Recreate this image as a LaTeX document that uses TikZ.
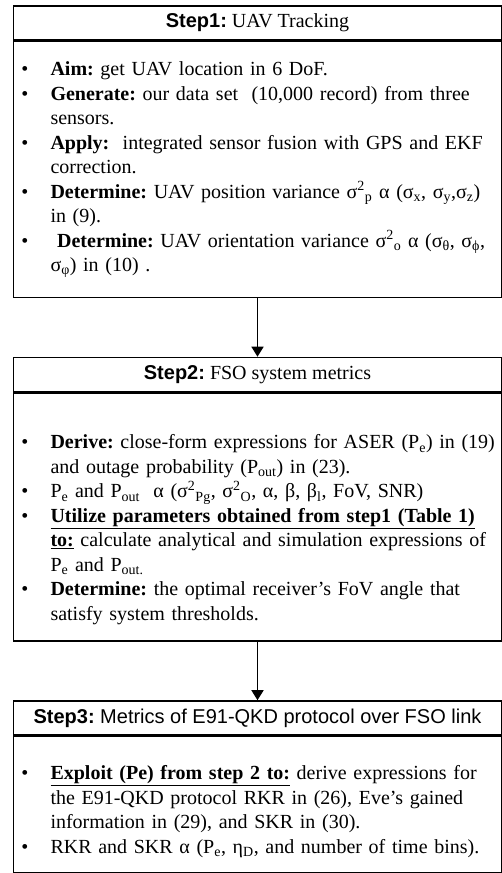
\documentclass[tikz,border=0pt]{standalone}
\usepackage{fontspec}
\setmainfont{Liberation Serif}
\setsansfont{Liberation Sans}
\usepackage{enumitem}
\usetikzlibrary{positioning,arrows.meta}
\frenchspacing
\def\stepwidth{488pt}
\def\headhigh{34pt}
\setlist[itemize]{label=\textbullet, leftmargin=37pt, labelsep=22pt, rightmargin=-30pt, itemsep=0pt, parsep=0pt, topsep=0pt, partopsep=0pt}
\newcommand{\steplabel}[1]{{\fontsize{20}{24}\selectfont\sffamily\bfseries #1:}}
\newcommand{\stephead}[3]{
    \node[head] (#1) at (257.5pt,-#2) {#3};
}
\newcommand{\sq}[1]{\textsuperscript{2}\textsubscript{#1}}
\tikzset{
    head/.style={draw, line width=1.6pt, minimum width=\stepwidth, minimum height=\headhigh, inner sep=0pt, font=\fontsize{20}{24}\selectfont},
    body/.style={draw, line width=1.6pt, minimum width=\stepwidth, text width=\stepwidth, inner sep=0pt, align=left, font=\fontsize{20}{24.5}\selectfont\frenchspacing},
    flow/.style={line width=1.6pt, -{Triangle[width=12pt,length=10pt]}}
}

\begin{document}
\begin{tikzpicture}
    \useasboundingbox (0,0) rectangle (502pt,-873pt);
    \stephead{head1}{23pt}{\steplabel{Step1} UAV Tracking}
    \node[body, minimum height=256pt, below=0pt of head1] (body1) {
        \vspace*{-10pt}
        \begin{itemize}
        \item \textbf{Aim:} get UAV location in 6 DoF.
        \item \textbf{Generate:} our data set\ \ (10,000 record) from three\\ sensors.
        \item \textbf{Apply:}\ \ integrated sensor fusion with GPS and EKF\\ correction.
        \item \textbf{Determine:} UAV position variance σ\sq{p} α (σ\textsubscript{x}, σ\textsubscript{y},σ\textsubscript{z})\\ in (9).
        \item \ \textbf{Determine:} UAV orientation variance σ\sq{o} α (σ\textsubscript{θ}, σ\textsubscript{ϕ},\\ σ\textsubscript{φ}) in (10) .
        \end{itemize}
    };
    \stephead{head2}{374.5pt}{\steplabel{Step2} FSO system metrics}
    \node[body, minimum height=248pt, below=0pt of head2] (body2) {
        \vspace*{15pt}
        \begin{itemize}
        \item \textbf{Derive:} close-form expressions for ASER (P\textsubscript{e}) in (19)\\ and outage probability (P\textsubscript{out}) in (23).
        \item P\textsubscript{e} and P\textsubscript{out}\ \ α (σ\sq{Pg}, σ\sq{O}, α, β, β\textsubscript{l}, FoV, SNR)
        \item \underline{\textbf{Utilize parameters obtained from step1 (Table 1)}}\\ \underline{\textbf{to:}} calculate analytical and simulation expressions of\\ P\textsubscript{e} and P\textsubscript{out.}
        \item \textbf{Determine:} the optimal receiver’s FoV angle that\\ satisfy system thresholds.
        \end{itemize}
    };
    \stephead{head3}{718pt}{\sffamily\fontsize{20}{24}\selectfont\steplabel{Step3} Metrics of E91-QKD protocol over FSO link}
    \node[body, minimum height=136pt, below=0pt of head3] (body3) {
        \vspace*{4pt}
        \begin{itemize}
        \item \underline{\textbf{Exploit (Pe) from step 2 to:}} derive expressions for\\ the E91-QKD protocol RKR in (26), Eve’s gained\\ information in (29), and SKR in (30).
        \item RKR and SKR α (P\textsubscript{e}, η\textsubscript{D}, and number of time bins).
        \end{itemize}
    };
    \draw[flow] (body1) -- (head2);
    \draw[flow] (body2) -- (head3);
\end{tikzpicture}
\end{document}
